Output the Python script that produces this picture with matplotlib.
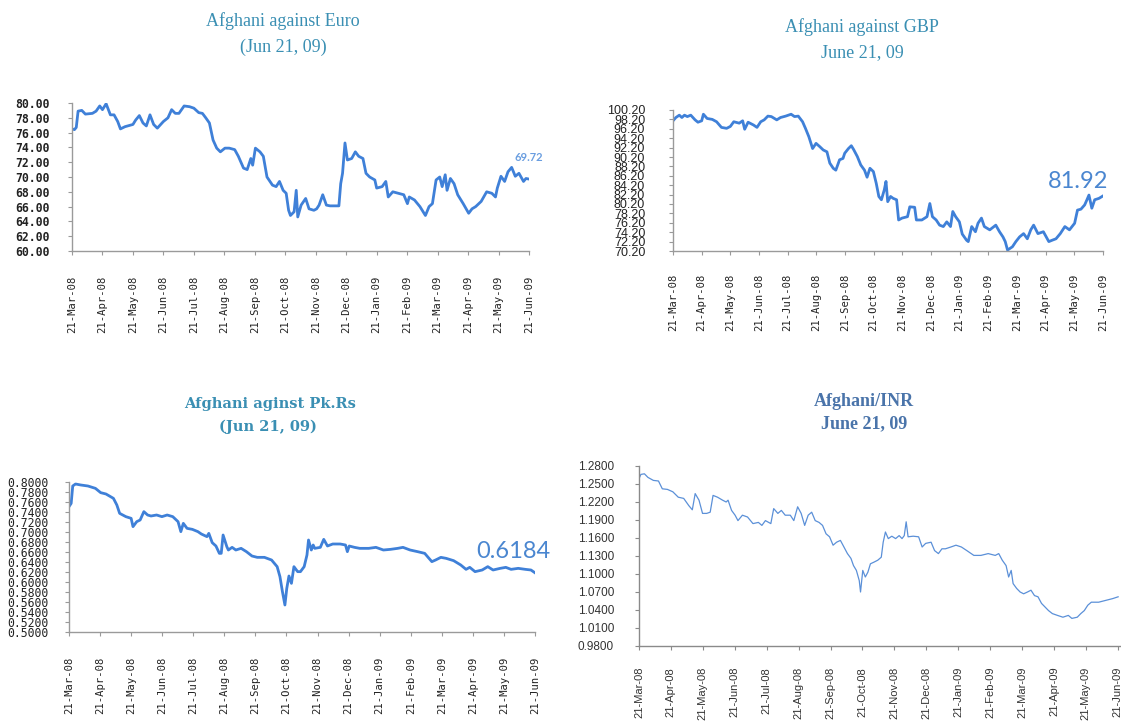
import matplotlib
matplotlib.use("Agg")
import matplotlib.pyplot as plt

# tick labels shared by all four panels (one per month)
months = ['21-Mar-08', '21-Apr-08', '21-May-08', '21-Jun-08', '21-Jul-08', '21-Aug-08',
          '21-Sep-08', '21-Oct-08', '21-Nov-08', '21-Dec-08', '21-Jan-09', '21-Feb-09',
          '21-Mar-09', '21-Apr-09', '21-May-09', '21-Jun-09']

# Afghani against Euro (x = months since 21-Mar-08)
eur_m = [0, 0.08, 0.14, 0.20, 0.32, 0.44, 0.67, 0.79, 0.91, 1.0, 1.12, 1.26, 1.38, 1.50, 1.59,
         1.74, 2.0, 2.09, 2.21, 2.33, 2.44, 2.56, 2.68, 2.80, 3.0, 3.15, 3.27, 3.39, 3.51, 3.68,
         3.86, 4.0, 4.16, 4.28, 4.39, 4.51, 4.63, 4.75, 4.87, 5.02, 5.16, 5.34, 5.46, 5.63, 5.75,
         5.87, 5.93, 6.02, 6.17, 6.28, 6.40, 6.58, 6.70, 6.81, 6.93, 7.03, 7.11, 7.17, 7.29, 7.36,
         7.41, 7.52, 7.67, 7.78, 7.94, 8.03, 8.11, 8.23, 8.35, 8.47, 8.76, 8.82, 8.88, 8.96, 9.04,
         9.18, 9.30, 9.41, 9.55, 9.65, 9.77, 9.94, 10.0, 10.18, 10.30, 10.38, 10.53, 10.71, 10.89,
         11.01, 11.07, 11.24, 11.42, 11.60, 11.72, 11.83, 11.95, 12.07, 12.15, 12.25, 12.31, 12.42,
         12.54, 12.66, 12.84, 13.02, 13.13, 13.25, 13.43, 13.61, 13.78, 13.90, 13.96, 14.08, 14.20,
         14.31, 14.43, 14.55, 14.67, 14.82, 14.90, 15.0]
eur_v = [76.5, 76.4, 76.7, 78.9, 79.0, 78.5, 78.6, 78.9, 79.6, 79.1, 79.9, 78.4, 78.4, 77.5, 76.5,
         76.8, 77.1, 77.7, 78.3, 77.3, 76.9, 78.4, 77.1, 76.6, 77.5, 78.0, 79.1, 78.6, 78.6, 79.6,
         79.5, 79.3, 78.7, 78.6, 78.0, 77.3, 75.0, 73.9, 73.4, 73.9, 73.9, 73.7, 72.8, 71.2, 71.0,
         72.5, 71.6, 73.9, 73.4, 72.8, 70.0, 68.9, 68.7, 69.4, 68.2, 67.8, 65.5, 64.8, 65.3, 68.2,
         64.6, 66.2, 67.1, 65.7, 65.5, 65.7, 66.2, 67.6, 66.2, 66.1, 66.1, 69.1, 70.5, 74.6, 72.3,
         72.5, 73.4, 72.8, 72.5, 70.5, 70.0, 69.6, 68.5, 68.7, 69.4, 67.3, 68.0, 67.8, 67.6,
         66.4, 67.3, 66.9, 66.0, 64.8, 66.0, 66.4, 69.6, 70.0, 68.7, 70.3, 68.2, 69.8,
         69.1, 67.6, 66.4, 65.1, 65.7, 66.0, 66.7, 68.0, 67.8, 67.3, 68.5, 70.1, 69.4,
         70.7, 71.3, 70.1, 70.5, 69.4, 69.8, 69.72]
eur_ticks = [60, 62, 64, 66, 68, 70, 72, 74, 76, 78, 80]

# Afghani against GBP
gbp_m = [0, 0.10, 0.22, 0.31, 0.40, 0.50, 0.62, 0.77, 0.87, 1.0, 1.06, 1.19, 1.37, 1.52, 1.69,
         1.87, 2.0, 2.12, 2.31, 2.43, 2.50, 2.62, 2.81, 2.93, 3.06, 3.18, 3.31, 3.43, 3.62, 3.75,
         3.93, 4.12, 4.24, 4.37, 4.52, 4.62, 4.74, 4.87, 4.99, 5.12, 5.24, 5.37, 5.47, 5.59, 5.68,
         5.81, 5.93, 5.99, 6.12, 6.22, 6.30, 6.43, 6.55, 6.68, 6.77, 6.87, 6.99, 7.09, 7.18, 7.27,
         7.37, 7.43, 7.49, 7.59, 7.68, 7.80, 7.87, 7.99, 8.18, 8.26, 8.43, 8.49, 8.68, 8.86, 8.96,
         9.05, 9.18, 9.30, 9.43, 9.55, 9.68, 9.76, 9.86, 9.99, 10.09, 10.24, 10.30, 10.42, 10.55,
         10.64, 10.76, 10.86, 11.05, 11.26, 11.39, 11.51, 11.59, 11.67, 11.84, 11.96, 12.09, 12.23,
         12.36, 12.48, 12.58, 12.73, 12.92, 13.11, 13.23, 13.36, 13.51, 13.67, 13.83, 13.92, 14.01,
         14.11, 14.23, 14.36, 14.44, 14.51, 14.61, 14.71, 14.86, 15.0]
gbp_v = [97.9, 98.6, 99.1, 98.6, 99.1, 98.8, 99.1, 98.1, 97.6, 97.9, 99.3, 98.4, 98.2, 97.7, 96.5,
         96.3, 96.7, 97.7, 97.4, 97.9, 96.1, 97.6, 97.0, 96.5, 97.7, 98.1, 98.9, 98.8, 98.1, 98.6,
         98.9, 99.3, 98.8, 98.9, 97.7, 96.3, 94.5, 92.0, 93.1, 92.4, 91.7, 91.3, 88.9, 87.8, 87.4,
         89.6, 89.9, 91.0, 92.0, 92.6, 91.8, 90.3, 88.5, 87.4, 85.9, 87.8, 87.1, 84.6, 81.8, 81.1,
         83.2, 85.0, 80.7, 81.8, 81.4, 81.1, 76.8, 77.2, 77.5, 79.6, 79.5, 76.8, 76.8, 77.5, 80.3,
         77.5, 76.8, 75.7, 75.4, 76.4, 75.4, 78.6, 77.5, 76.4, 73.8, 72.5, 72.2, 75.4, 74.3,
         76.1, 77.2, 75.4, 74.7, 75.7, 74.3, 73.2, 72.2, 70.4, 71.1, 72.2, 73.2, 73.9,
         72.8, 74.7, 75.7, 73.9, 74.3, 72.2, 72.5, 72.8, 73.9, 75.4, 74.7, 75.4, 76.1,
         78.9, 79.1, 80.0, 81.1, 82.1, 79.3, 81.1, 81.4, 81.92]
gbp_ticks = [70.2, 72.2, 74.2, 76.2, 78.2, 80.2, 82.2, 84.2, 86.2, 88.2, 90.2, 92.2, 94.2, 96.2,
             98.2, 100.2]

# Afghani against Pk.Rs
pkr_m = [0, 0.07, 0.12, 0.21, 0.38, 0.61, 0.85, 1.02, 1.19, 1.43, 1.54, 1.63, 1.83, 2.0, 2.06,
         2.18, 2.29, 2.41, 2.53, 2.64, 2.82, 2.99, 3.16, 3.34, 3.51, 3.60, 3.68, 3.80, 3.97, 4.15,
         4.26, 4.44, 4.50, 4.61, 4.73, 4.84, 4.90, 4.96, 5.08, 5.13, 5.25, 5.37, 5.54, 5.71, 5.89,
         6.06, 6.29, 6.52, 6.70, 6.79, 6.87, 6.95, 7.01, 7.08, 7.16, 7.24, 7.36, 7.45, 7.57, 7.66,
         7.71, 7.80, 7.86, 7.91, 8.09, 8.20, 8.32, 8.49, 8.73, 8.90, 8.96, 9.02, 9.19, 9.36, 9.65,
         9.88, 10.12, 10.35, 10.58, 10.75, 10.98, 11.22, 11.45, 11.56, 11.68, 11.80, 11.97, 12.14,
         12.38, 12.61, 12.78, 12.90, 13.07, 13.30, 13.48, 13.65, 13.88, 14.06, 14.23, 14.46, 14.69,
         14.87, 15.0]
pkr_v = [0.7507, 0.7573, 0.792, 0.796, 0.794, 0.792, 0.7873, 0.7787, 0.776, 0.7673, 0.754, 0.7373,
         0.7307, 0.7273, 0.7107, 0.7207, 0.724, 0.7407, 0.734, 0.732, 0.734, 0.7307, 0.734, 0.7307,
         0.7207, 0.7007, 0.7173, 0.7073, 0.7053, 0.7007, 0.696, 0.6907, 0.6973, 0.6787, 0.672,
         0.6573, 0.6573, 0.694, 0.6707, 0.664, 0.6693, 0.664, 0.6673, 0.6607, 0.652, 0.6493,
         0.6493, 0.644, 0.6307, 0.6107, 0.5807, 0.554, 0.5873, 0.612, 0.5973, 0.6307, 0.6207,
         0.6207, 0.6307, 0.654, 0.684, 0.664, 0.674, 0.6673, 0.6693, 0.6853, 0.672, 0.676, 0.676,
         0.674, 0.6607, 0.672, 0.6693, 0.6673, 0.6673, 0.6693, 0.664, 0.6653, 0.6673, 0.6693,
         0.664, 0.6607, 0.6573, 0.6493, 0.6407, 0.644, 0.6493, 0.6473, 0.6427, 0.634, 0.6253,
         0.6293, 0.6207, 0.624, 0.6307, 0.624, 0.6273, 0.6293, 0.6253, 0.6273, 0.6253, 0.624,
         0.6184]
pkr_ticks = [0.50, 0.52, 0.54, 0.56, 0.58, 0.60, 0.62, 0.64, 0.66, 0.68, 0.70, 0.72, 0.74, 0.76,
             0.78, 0.80]

# Afghani/INR
inr_m = [0, 0.06, 0.17, 0.28, 0.45, 0.61, 0.73, 0.89, 1.06, 1.23, 1.40, 1.56, 1.67, 1.76, 1.88,
         1.99, 2.12, 2.23, 2.32, 2.46, 2.62, 2.73, 2.79, 2.90, 3.01, 3.10, 3.24, 3.40, 3.57, 3.74,
         3.85, 3.96, 4.13, 4.22, 4.35, 4.46, 4.58, 4.74, 4.85, 4.97, 5.08, 5.19, 5.30, 5.41, 5.52,
         5.64, 5.75, 5.86, 5.97, 6.08, 6.19, 6.31, 6.42, 6.53, 6.64, 6.72, 6.81, 6.90, 6.94, 7.01,
         7.09, 7.17, 7.25, 7.37, 7.48, 7.59, 7.65, 7.72, 7.81, 7.92, 8.04, 8.15, 8.24, 8.31, 8.37,
         8.43, 8.59, 8.76, 8.87, 8.98, 9.15, 9.26, 9.38, 9.49, 9.60, 9.77, 9.93, 10.10, 10.27,
         10.49, 10.71, 10.94, 11.16, 11.27, 11.38, 11.50, 11.58, 11.66, 11.72, 11.83, 11.94, 12.05,
         12.17, 12.28, 12.39, 12.50, 12.61, 12.72, 12.83, 12.95, 13.11, 13.28, 13.45, 13.56, 13.73,
         13.84, 13.95, 14.06, 14.17, 14.40, 14.62, 14.84, 15.01]
inr_v = [1.259, 1.266, 1.267, 1.261, 1.256, 1.255, 1.242, 1.241, 1.237, 1.228, 1.226, 1.214, 1.207,
         1.234, 1.223, 1.201, 1.201, 1.203, 1.231, 1.228, 1.223, 1.220, 1.223, 1.206, 1.198,
         1.189, 1.198, 1.195, 1.184, 1.186, 1.181, 1.189, 1.184, 1.209, 1.201, 1.206, 1.198,
         1.198, 1.189, 1.212, 1.201, 1.181, 1.198, 1.203, 1.189, 1.186, 1.181, 1.167, 1.162,
         1.148, 1.153, 1.156, 1.145, 1.134, 1.126, 1.114, 1.106, 1.089, 1.070, 1.106, 1.095,
         1.103, 1.117, 1.120, 1.123, 1.128, 1.153, 1.170, 1.159, 1.163, 1.159, 1.164, 1.159,
         1.164, 1.187, 1.162, 1.163, 1.162, 1.145, 1.151, 1.153, 1.139, 1.134, 1.142, 1.142,
         1.145, 1.148, 1.145, 1.139, 1.131, 1.131, 1.134, 1.131, 1.134, 1.123, 1.114, 1.095,
         1.106, 1.084, 1.076, 1.070, 1.067, 1.070, 1.073, 1.064, 1.062, 1.051, 1.045, 1.039,
         1.034, 1.031, 1.028, 1.031, 1.026, 1.028, 1.034, 1.039, 1.048, 1.053, 1.053, 1.056,
         1.059, 1.062]
inr_ticks = [0.98, 1.01, 1.04, 1.07, 1.10, 1.13, 1.16, 1.19, 1.22, 1.25, 1.28]

W, H = 1121, 723
fig = plt.figure(figsize=(W / 100, H / 100), dpi=100)
fig.patch.set_facecolor('white')


def place(l, t, r, b):
    return fig.add_axes([l / W, 1 - b / H, (r - l) / W, (b - t) / H])


def style(ax, ticks, fmt, ylim, xmax, ypad, xpad, yfont, xfont, axcol='#9a9a9a'):
    ax.set_xlim(0, xmax)
    ax.set_ylim(*ylim)
    ax.set_xticks(range(len(months)))
    ax.set_xticklabels(months, rotation=90, **xfont)
    ax.set_yticks(ticks)
    ax.set_yticklabels([fmt % t for t in ticks], **yfont)
    for s in ('top', 'right'):
        ax.spines[s].set_visible(False)
    for s in ('left', 'bottom'):
        ax.spines[s].set_color(axcol)
        ax.spines[s].set_linewidth(1.0)
    ax.tick_params(axis='y', length=3, color=axcol, pad=ypad)
    ax.tick_params(axis='x', length=3, color=axcol, pad=xpad)
    ax.patch.set_alpha(0)


mono = dict(family='DejaVu Sans Mono', fontsize=7.6, color='#222222')
line_col = '#3f80d8'
title_col = '#3a8fb3'

# --- Euro ---
ax1 = place(72, 103, 529, 251)
ax1.plot(eur_m, eur_v, color=line_col, lw=2.0)
style(ax1, eur_ticks, '%.2f', (60, 80), 15, 13, 15,
      dict(family='DejaVu Sans Mono', fontsize=8.3, fontweight='bold', color='#222222'), mono)
ax1.text(15.0, 72.7, '69.72', color='#6a9ee0', fontsize=8, ha='center', va='center',
         family='Lato', fontweight='bold', clip_on=False)
fig.text(283 / W, 1 - 21 / H, 'Afghani against Euro', ha='center', va='center',
         family='Liberation Serif', fontsize=13, color=title_col)
fig.text(283 / W, 1 - 47 / H, '(Jun 21, 09)', ha='center', va='center',
         family='Liberation Serif', fontsize=13, color=title_col)

# --- GBP ---
ax2 = place(673, 110, 1103, 251)
ax2.plot(gbp_m, gbp_v, color=line_col, lw=2.0)
style(ax2, gbp_ticks, '%.2f', (70.2, 100.2), 15, 17, 13,
      dict(family='Liberation Sans', fontsize=9, color='#222222'), mono)
ax2.text(14.13, 84.9, '81.92', color='#4a86d0', fontsize=17, ha='center', va='center',
         family='Lato', clip_on=False)
fig.text(862 / W, 1 - 27 / H, 'Afghani against GBP', ha='center', va='center',
         family='Liberation Serif', fontsize=13, color=title_col)
fig.text(862 / W, 1 - 53 / H, 'June 21, 09', ha='center', va='center',
         family='Liberation Serif', fontsize=13, color=title_col)

# --- Pk.Rs ---
ax3 = place(69, 482, 535, 632)
ax3.plot(pkr_m, pkr_v, color=line_col, lw=2.0)
style(ax3, pkr_ticks, '%.4f', (0.5, 0.8), 15, 12, 15,
      dict(family='DejaVu Sans Mono', fontsize=8.3, color='#222222'), mono)
ax3.text(14.29, 0.662, '0.6184', color='#4a86d0', fontsize=17, ha='center', va='center',
         family='Lato', clip_on=False)
fig.text(270 / W, 1 - 404 / H, 'Afghani aginst Pk.Rs', ha='center', va='center',
         family='DejaVu Serif', fontsize=10.5, fontweight='bold', color=title_col)
fig.text(268 / W, 1 - 427 / H, '(Jun 21, 09)', ha='center', va='center',
         family='DejaVu Serif', fontsize=10.5, fontweight='bold', color=title_col)

# --- INR ---
ax4 = place(639, 466, 1121, 646)
ax4.plot(inr_m, inr_v, color='#5b90d8', lw=0.9)
style(ax4, inr_ticks, '%.4f', (0.98, 1.28), 15.1, 15, 12,
      dict(family='Liberation Sans', fontsize=8.5, color='#333333'),
      dict(family='Liberation Sans', fontsize=8, color='#333333'), axcol='#8a8a8a')
fig.text(864 / W, 1 - 402 / H, 'Afghani/INR', ha='center', va='center',
         family='Liberation Serif', fontsize=13, fontweight='bold', color='#4a74aa')
fig.text(864 / W, 1 - 424 / H, 'June 21, 09', ha='center', va='center',
         family='Liberation Serif', fontsize=13, fontweight='bold', color='#4a74aa')

fig.savefig('out.png', dpi=100, facecolor='white')
